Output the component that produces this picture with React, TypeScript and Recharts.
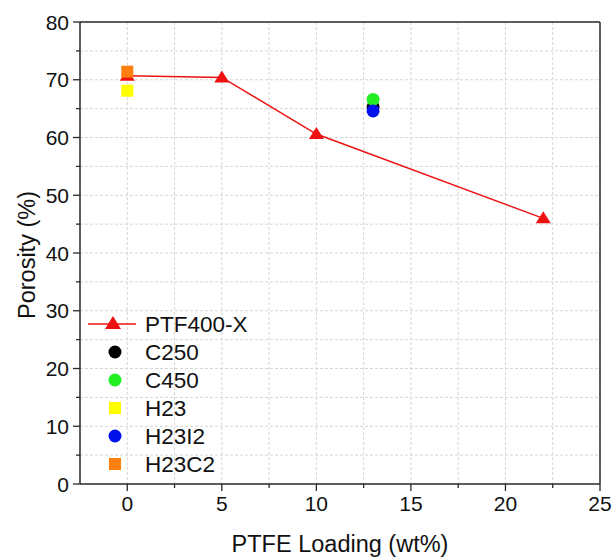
import { ScatterChart, Scatter, XAxis, YAxis, CartesianGrid, ReferenceLine } from "recharts"

// PTF400-X series (line + triangles)
const ptfLoading = [0, 5, 10, 22]
const ptfPorosity = [70.7, 70.4, 60.6, 46.0]

// single reference samples
const sampleNames = ["C250", "C450", "H23", "H23I2", "H23C2"]
const sampleLoading = [13, 13, 0, 13, 0]
const samplePorosity = [65.3, 66.6, 68.1, 64.6, 71.4]
const sampleColors = ["#000000", "#22ee22", "#ffff00", "#0011ee", "#ff7f0e"]
const sampleMarkers = ["circle", "circle", "square", "circle", "square"]

const xTicks = [-2.5, 0, 2.5, 5, 7.5, 10, 12.5, 15, 17.5, 20, 22.5, 25]
const yTicks = [0, 5, 10, 15, 20, 25, 30, 35, 40, 45, 50, 55, 60, 65, 70, 75, 80]

const RED = "#ee1111"
const AXIS = "#2a2a2a"
const FONT = "'Liberation Sans', Arial, sans-serif"
const TICK_FS = 21
const TITLE_FS = 23.5
const LEGEND_FS = 22.5

const ptfData = ptfLoading.map((x, i) => ({ x, y: ptfPorosity[i] }))

const Triangle = (props: any) => {
  const { cx, cy } = props
  return <polygon points={`${cx},${cy - 7} ${cx - 7.5},${cy + 5} ${cx + 7.5},${cy + 5}`} fill={RED} />
}

const makeMarker = (kind: string, color: string) => (props: any) => {
  const { cx, cy } = props
  if (kind === "square") return <rect x={cx - 6} y={cy - 6} width={12} height={12} fill={color} />
  return <circle cx={cx} cy={cy} r={6.5} fill={color} />
}

const XTick = (props: any) => {
  const { x, y, payload } = props
  const major = payload.value % 5 === 0
  return (
    <g>
      {payload.value > -2.5 && <line x1={x} x2={x} y1={y} y2={y + (major ? 7 : 4)} stroke={AXIS} strokeWidth={1.3} />}
      {major && (
        <text x={x} y={y + 27} textAnchor="middle" fontSize={TICK_FS} fontFamily={FONT} fill="#111">
          {payload.value}
        </text>
      )}
    </g>
  )
}

const YTick = (props: any) => {
  const { x, y, payload } = props
  const major = payload.value % 10 === 0
  return (
    <g>
      <line x1={x} x2={x - (major ? 7 : 4)} y1={y} y2={y} stroke={AXIS} strokeWidth={1.3} />
      {major && (
        <text x={x - 11} y={y + 7.5} textAnchor="end" fontSize={TICK_FS} fontFamily={FONT} fill="#111">
          {payload.value}
        </text>
      )}
    </g>
  )
}

const LegendBox = () => {
  const rowH = 28
  return (
    <svg width={220} height={rowH * 6} style={{ position: "absolute", left: 82, top: 310 }}>
      <g fontFamily={FONT} fontSize={LEGEND_FS} fill="#111">
        <line x1={6} x2={54} y1={14} y2={14} stroke={RED} strokeWidth={1.5} />
        <polygon points="31,6 23,19 39,19" fill={RED} />
        <text x={63} y={22}>PTF400-X</text>
        {sampleNames.map((name, i) => {
          const cy = 14 + rowH * (i + 1)
          return (
            <g key={name}>
              {sampleMarkers[i] === "square" ? (
                <rect x={27} y={cy - 6} width={12} height={12} fill={sampleColors[i]} />
              ) : (
                <circle cx={33} cy={cy} r={6.5} fill={sampleColors[i]} />
              )}
              <text x={63} y={cy + 8}>{name}</text>
            </g>
          )
        })}
      </g>
    </svg>
  )
}

export default function App() {
  return (
    <div style={{ position: "absolute", left: 0, top: 0, width: 613, height: 557, background: "#fff" }}>
      <ScatterChart width={613} height={557} margin={{ top: 22, right: 13, bottom: 13, left: 20 }}>
        <CartesianGrid stroke="#d6d6d6" strokeDasharray="3 2" />
        <XAxis
          type="number"
          dataKey="x"
          domain={[-2.5, 25]}
          ticks={xTicks}
          interval={0}
          tickSize={0}
          tickMargin={0}
          tick={<XTick />}
          stroke={AXIS}
          strokeWidth={1.5}
          height={60}
          allowDataOverflow
          label={{ value: "PTFE Loading (wt%)", position: "insideBottom", offset: -8, fontSize: TITLE_FS, fontFamily: FONT, fill: "#111" }}
        />
        <YAxis
          type="number"
          dataKey="y"
          domain={[0, 80]}
          ticks={yTicks}
          interval={0}
          tickSize={0}
          tickMargin={0}
          tick={<YTick />}
          stroke={AXIS}
          strokeWidth={1.5}
          width={60}
          allowDataOverflow
          label={{ value: "Porosity (%)", angle: -90, position: "insideLeft", offset: 7, dy: 66, fontSize: TITLE_FS, fontFamily: FONT, fill: "#111" }}
        />
        {/* top and right frame lines */}
        <ReferenceLine y={80} stroke={AXIS} strokeWidth={1.5} ifOverflow="visible" />
        <ReferenceLine x={25} stroke={AXIS} strokeWidth={1.5} ifOverflow="visible" />
        <Scatter
          name="PTF400-X"
          data={ptfData}
          line={{ stroke: RED, strokeWidth: 1.5 }}
          shape={<Triangle />}
          isAnimationActive={false}
        />
        {sampleNames.map((name, i) => (
          <Scatter
            key={name}
            name={name}
            data={[{ x: sampleLoading[i], y: samplePorosity[i] }]}
            shape={makeMarker(sampleMarkers[i], sampleColors[i])}
            isAnimationActive={false}
          />
        ))}
      </ScatterChart>
      <LegendBox />
    </div>
  )
}
